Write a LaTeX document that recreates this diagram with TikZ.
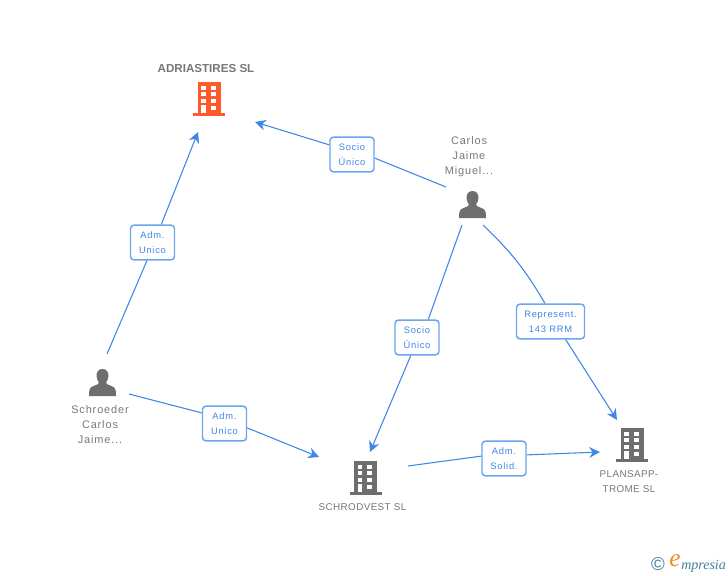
\documentclass[tikz,border=0pt]{standalone}
\usepackage{fontspec}
\setmainfont{Liberation Sans}
\newfontfamily\spacedfont[LetterSpace=8]{Liberation Sans}
\newfontfamily\capsfont[LetterSpace=4]{Liberation Sans}
\newfontfamily\logofont[Ligatures=TeX]{Liberation Serif}
\usepackage{xcolor}
\usetikzlibrary{arrows.meta}
\definecolor{linkblue}{HTML}{3F86E6}
\definecolor{boxblue}{HTML}{6AA5EE}
\definecolor{labelgray}{HTML}{777777}
\definecolor{icongray}{HTML}{6E6E6E}
\definecolor{mainorange}{HTML}{FF5A2C}
\definecolor{logoteal}{HTML}{3F7F96}
\definecolor{logoorange}{HTML}{F08A1D}
\tikzset{
	link/.style={linkblue, line width=0.8pt},
	linkarrow/.style={link, -{Stealth[length=8pt, width=8pt, inset=2.5pt]}},
	linkbox/.style={draw=boxblue, line width=1.1pt, fill=white, rounded corners=2.5pt, inner sep=0pt, minimum width=33pt, minimum height=26pt, align=center, text=linkblue, font=\spacedfont\fontsize{7}{11.2}\selectfont},
	namelabel/.style={inner sep=0pt, align=center, text=labelgray, font=\spacedfont\fontsize{8.2}{11.25}\selectfont},
	capslabel/.style={inner sep=0pt, align=center, text=labelgray, font=\capsfont\fontsize{7.4}{11.25}\selectfont},
	building/.pic={
		\fill[pic actions] (-11.5,-31) rectangle (11.5,0);
		\fill[pic actions] (-16,0) rectangle (16,3);
		\foreach \row in {-27.5,-21,-14.5} {
			\fill[white] (-7.8,\row) rectangle (-3.2,\row+4.4);
			\fill[white] (1.8,\row) rectangle (6.5,\row+4.4);
		}
		\fill[white] (-7.8,-8) rectangle (-3.2,0);
		\fill[white] (1.8,-7.5) rectangle (6.5,-3);
	},
	person/.pic={
		\fill[pic actions] (0,-13.5) .. controls (-4.5,-13.5) and (-6,-10) .. (-6,-6.5) .. controls (-6,-3.5) and (-4.5,-1.5) .. (-3.5,0) .. controls (-3.5,1.5) and (-5,2) .. (-9,3.5) .. controls (-13,5) and (-13.5,7) .. (-13.5,13.5) -- (13.5,13.5) .. controls (13.5,7) and (13,5) .. (9,3.5) .. controls (5,2) and (3.5,1.5) .. (3.5,0) .. controls (4.5,-1.5) and (6,-3.5) .. (6,-6.5) .. controls (6,-10) and (4.5,-13.5) .. (0,-13.5) -- cycle;
	}
}
\begin{document}
\begin{tikzpicture}[x=0.75pt, y=-0.75pt]
	\useasboundingbox (0,0) rectangle (728,575);
	% companies and people
	\pic[fill=mainorange] at (209,113) {building};
	\pic[fill=icongray] at (365.5,492) {building};
	\pic[fill=icongray] at (632,459) {building};
	\pic[fill=icongray] at (472.5,204.5) {person};
	\pic[fill=icongray] at (102.5,382.5) {person};
	\node[inner sep=0pt, text=labelgray, font=\bfseries\fontsize{8.7}{10}\selectfont] (adriastires) at (206,69) {ADRIASTIRES SL};
	\node[namelabel] (carlos) at (469,157) {Carlos\\Jaime\\Miguel...};
	\node[namelabel] (schroeder) at (100,425) {Schroeder\\Carlos\\Jaime...};
	\node[capslabel] (schrodvest) at (362.5,507) {SCHRODVEST SL};
	\node[capslabel] (plansapp) at (629,481.5) {PLANSAPP-\\TROME SL};
	% free ends of the links
	\coordinate (adriastiresa) at (255,122);
	\coordinate (adriastiresb) at (198,132);
	\coordinate (carlosa) at (446,187);
	\coordinate (carlosb) at (462,225);
	\coordinate (carlosc) at (483,225);
	\coordinate (schroedera) at (107,354);
	\coordinate (schroederb) at (129,394);
	\coordinate (schrodvesta) at (319,457);
	\coordinate (schrodvestb) at (370,452);
	\coordinate (schrodvestc) at (408,466);
	\coordinate (plansappa) at (617,420);
	\coordinate (plansappb) at (600,452);
	% link labels
	\node[linkbox] (socioa) at (352,154.5) {Socio\\Único};
	\node[linkbox] (adma) at (152.5,242.5) {Adm.\\Unico};
	\node[linkbox] (sociob) at (417,337.5) {Socio\\Único};
	\node[linkbox, minimum width=51pt] (represent) at (550.5,321.5) {Represent.\\143 RRM};
	\node[linkbox] (admb) at (224.5,423.5) {Adm.\\Unico};
	\node[linkbox] (admc) at (504,458.5) {Adm.\\Solid.};
	% links
	\draw[link] (carlosa) -- (socioa.-9);
	\draw[linkarrow] (socioa.157) -- (adriastiresa);
	\draw[link] (schroedera) -- (adma.253);
	\draw[linkarrow] (adma.64) -- (adriastiresb);
	\draw[link] (carlosb) -- (sociob.58);
	\draw[linkarrow] (sociob.251) -- (schrodvestb);
	\draw[link] (carlosc) to[bend left=8] (represent.107);
	\draw[linkarrow] (represent.-50) -- (plansappa);
	\draw[link] (schroederb) -- (admb.155);
	\draw[linkarrow] (admb.-11) -- (schrodvesta);
	\draw[link] (schrodvestc) -- (admc.174);
	\draw[linkarrow] (admc.9) -- (plansappb);
	% logo
	\node[inner sep=0pt, text=logoteal, font=\fontsize{14}{14}\selectfont] (copyrightmark) at (658,564) {©};
	\node[inner sep=0pt, text=logoorange, font=\logofont\itshape\fontsize{19}{19}\selectfont] (logoe) at (675,561) {e};
	\node[inner sep=0pt, anchor=west, text=logoteal, font=\logofont\itshape\fontsize{10.5}{10.5}\selectfont] (logotext) at (681,566) {mpresia};
\end{tikzpicture}
\end{document}
